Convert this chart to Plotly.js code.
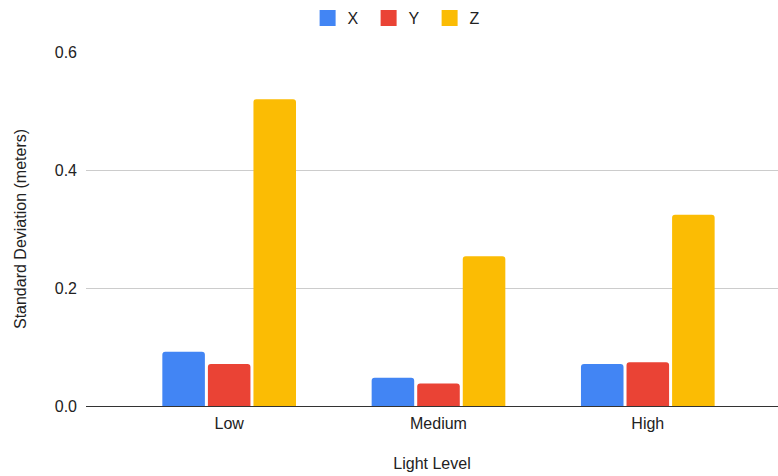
<!DOCTYPE html>
<html>
<head>
<meta charset="utf-8">
<script src="https://cdn.plot.ly/plotly-3.0.1.min.js"></script>
<style>html,body{margin:0;padding:0;background:#fff;}#chart{width:778px;height:476px;}</style>
</head>
<body>
<div id="chart"></div>
<script>
// Standard deviation of position error per axis, grouped by light level
const lightLevels = ["Low", "Medium", "High"];
const xValues = [0.092, 0.048, 0.071];
const yValues = [0.071, 0.038, 0.074];
const zValues = [0.520, 0.254, 0.324];
const seriesNames = ["X", "Y", "Z"];
const seriesColors = ["#4285F4", "#EA4335", "#FBBC04"];
const yTickValues = [0, 0.2, 0.4, 0.6];
const yTickLabels = ["0.0", "0.2", "0.4", "0.6"];

const FONT = "Liberation Sans, Arial, sans-serif";
const TEXT = "#222";
const seriesValues = [xValues, yValues, zValues];

// Bars (legend entries come from the square-marker companions below)
const bars = seriesNames.map((name, i) => ({
  type: "bar",
  name: name,
  legendgroup: name,
  showlegend: false,
  x: lightLevels,
  y: seriesValues[i],
  marker: { color: seriesColors[i], cornerradius: 3 },
  hoverinfo: "x+y+name"
}));

// Legend swatches: larger square markers than the default bar swatch
const swatches = seriesNames.map((name, i) => ({
  type: "scatter",
  mode: "markers",
  name: name,
  legendgroup: name,
  x: [null],
  y: [null],
  marker: { color: seriesColors[i], symbol: "square", size: 16 },
  hoverinfo: "skip"
}));

const layout = {
  width: 778,
  height: 476,
  margin: { l: 86, r: 0, t: 52, b: 70 },
  paper_bgcolor: "#fff",
  plot_bgcolor: "#fff",
  font: { family: FONT, size: 16, color: TEXT },
  barmode: "group",
  bargap: 0.347,
  bargroupgap: 0.066,
  showlegend: true,
  legend: {
    orientation: "h",
    xref: "container",
    yref: "container",
    x: 0.513,
    xanchor: "center",
    y: 1 - 18 / 476,
    yanchor: "middle",
    font: { family: FONT, size: 16, color: TEXT },
    entrywidth: 16,
    entrywidthmode: "pixels",
    itemclick: false
  },
  xaxis: {
    type: "category",
    range: [-0.684, 2.622],
    showgrid: false,
    zeroline: false,
    showline: true,
    linecolor: "#333",
    linewidth: 1,
    ticks: "",
    ticklabelstandoff: 3,
    tickfont: { family: FONT, size: 16, color: TEXT },
    title: { text: "Light Level", font: { family: FONT, size: 16, color: TEXT }, standoff: 26 }
  },
  yaxis: {
    range: [0, 0.6],
    tickvals: yTickValues,
    ticktext: yTickLabels,
    showgrid: true,
    gridcolor: "#cccccc",
    gridwidth: 1,
    zeroline: false,
    showline: false,
    ticks: "",
    ticklabelstandoff: 8,
    tickfont: { family: FONT, size: 16, color: TEXT },
    title: { text: "Standard Deviation (meters)", font: { family: FONT, size: 16, color: TEXT }, standoff: 24 }
  }
};

Plotly.newPlot("chart", bars.concat(swatches), layout, { displayModeBar: false, staticPlot: true });
</script>
</body>
</html>
